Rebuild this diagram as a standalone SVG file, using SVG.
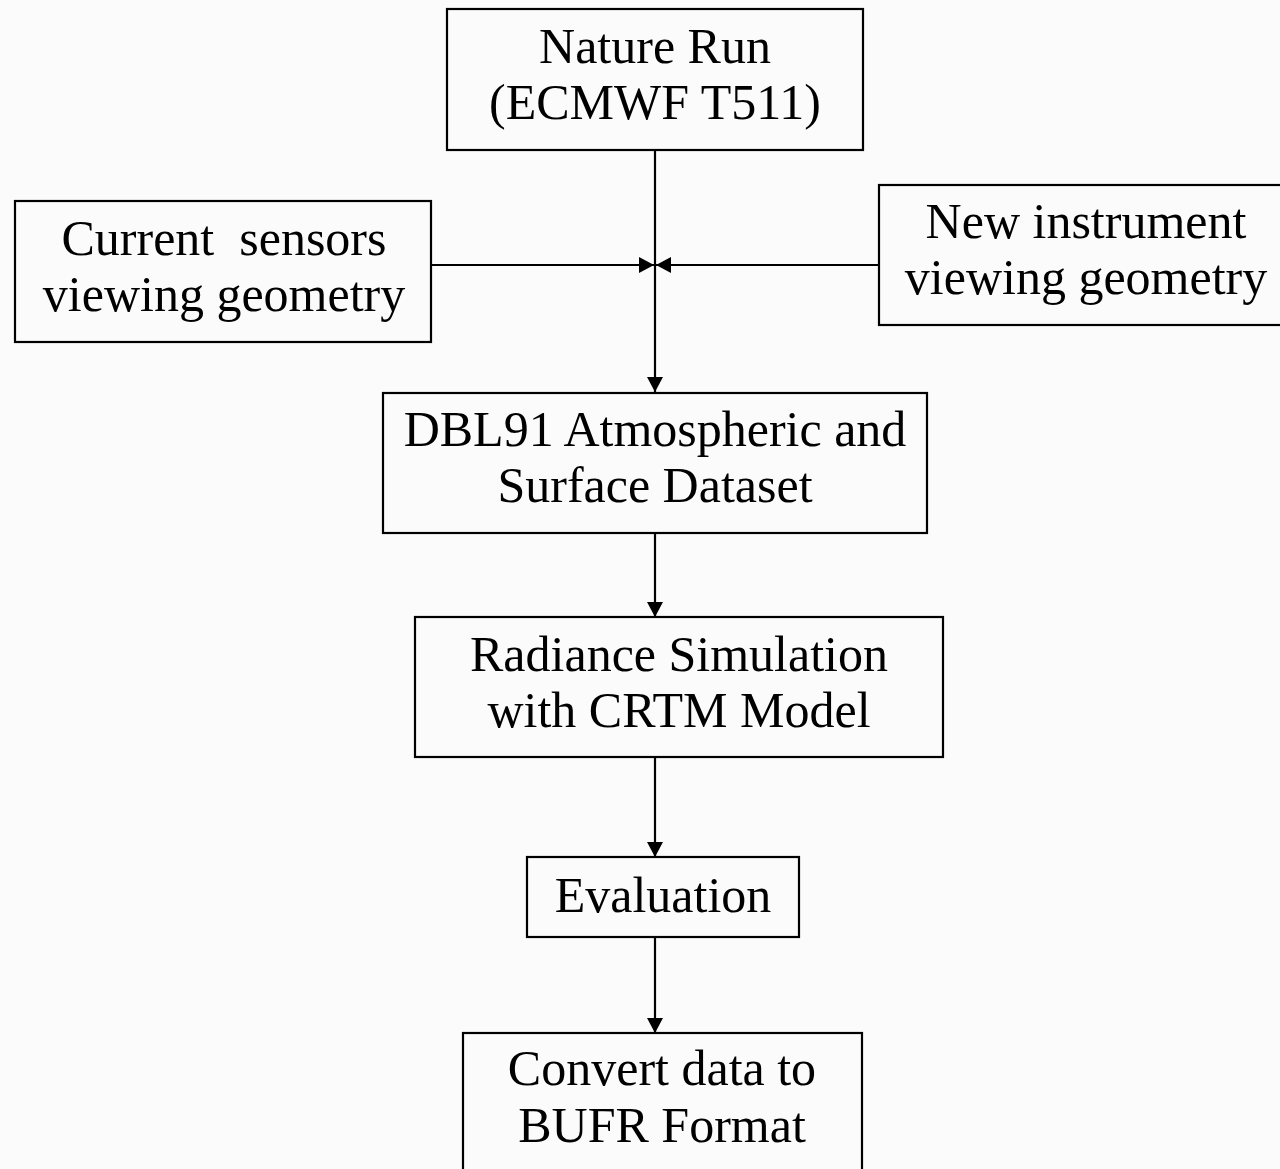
<svg xmlns="http://www.w3.org/2000/svg" width="1280" height="1169" viewBox="0 0 1280 1169">
<style>
.box{fill:none;stroke:#000;stroke-width:2.2}
.t{font-family:"Liberation Serif","Times New Roman",serif;font-size:50px;fill:#000;text-anchor:middle;white-space:pre}
.c{stroke:#000;stroke-width:2.2;fill:none}
</style>
<defs>
<marker id="ah" markerUnits="userSpaceOnUse" markerWidth="16" markerHeight="18" refX="15" refY="8" orient="auto">
<path d="M0,0 L15,8 L0,16 Z" fill="#000"/>
</marker>
</defs>
<rect width="1280" height="1169" fill="#fbfbfb"/>
<g id="connectors">
<line class="c" x1="655" y1="150" x2="655" y2="392" marker-end="url(#ah)"/>
<line class="c" x1="431" y1="265" x2="654" y2="265" marker-end="url(#ah)"/>
<line class="c" x1="879" y1="265" x2="656" y2="265" marker-end="url(#ah)"/>
<line class="c" x1="655" y1="533" x2="655" y2="617" marker-end="url(#ah)"/>
<line class="c" x1="655" y1="757" x2="655" y2="857" marker-end="url(#ah)"/>
<line class="c" x1="655" y1="937" x2="655" y2="1033" marker-end="url(#ah)"/>
</g>
<g id="nature-run">
<rect class="box" x="447" y="9" width="416" height="141"/>
<text class="t" x="655" y="63">Nature Run</text>
<text class="t" x="655" y="119">(ECMWF T511)</text>
</g>
<g id="current-sensors">
<rect class="box" x="15" y="201" width="416" height="141"/>
<text class="t" x="224" y="255" xml:space="preserve">Current  sensors</text>
<text class="t" x="224" y="311">viewing geometry</text>
</g>
<g id="new-instrument">
<rect class="box" x="879" y="185" width="412" height="140"/>
<text class="t" x="1086" y="238">New instrument</text>
<text class="t" x="1086" y="294">viewing geometry</text>
</g>
<g id="dbl91">
<rect class="box" x="383" y="393" width="544" height="140"/>
<text class="t" x="655" y="446">DBL91 Atmospheric and</text>
<text class="t" x="655" y="502">Surface Dataset</text>
</g>
<g id="radiance">
<rect class="box" x="415" y="617" width="528" height="140"/>
<text class="t" x="679" y="671">Radiance Simulation</text>
<text class="t" x="679" y="727">with CRTM Model</text>
</g>
<g id="evaluation">
<rect class="box" x="527" y="857" width="272" height="80"/>
<text class="t" x="663" y="912">Evaluation</text>
</g>
<g id="convert">
<rect class="box" x="463" y="1033" width="399" height="150"/>
<text class="t" x="662" y="1085">Convert data to</text>
<text class="t" x="662" y="1142">BUFR Format</text>
</g>
</svg>
